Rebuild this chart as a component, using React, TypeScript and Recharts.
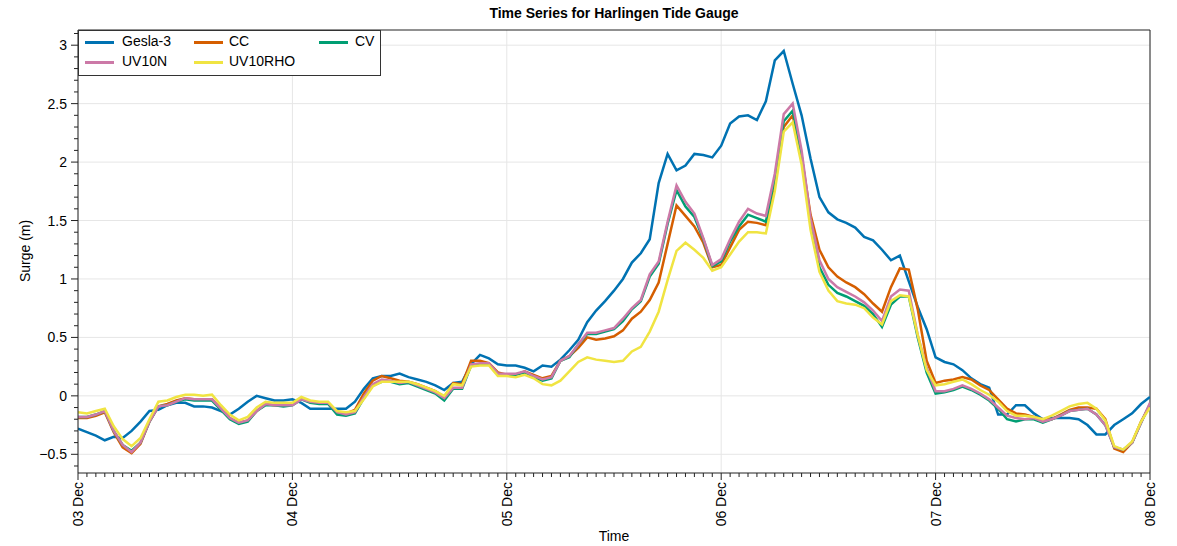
import { LineChart, Line, XAxis, YAxis, CartesianGrid, ReferenceLine } from 'recharts';

// hourly surge values, 03 Dec 00:00 -> 08 Dec 00:00 (121 points)
const gesla = [
  -0.28, -0.31, -0.34, -0.38, -0.35, -0.36, -0.30, -0.22, -0.13, -0.12, -0.08, -0.06, -0.06, -0.09, -0.09, -0.10, -0.13, -0.16, -0.11, -0.05, 0.0, -0.02, -0.04, -0.04,
  -0.03, -0.06, -0.11, -0.11, -0.11, -0.11, -0.11, -0.05, 0.06, 0.15, 0.17, 0.17, 0.19, 0.16, 0.14, 0.12, 0.09, 0.05, 0.11, 0.12, 0.27, 0.35, 0.32, 0.27,
  0.26, 0.26, 0.24, 0.21, 0.26, 0.25, 0.31, 0.39, 0.48, 0.63, 0.73, 0.81, 0.9, 1.0, 1.14, 1.22, 1.34, 1.82, 2.07, 1.93, 1.97, 2.07, 2.06, 2.04,
  2.14, 2.33, 2.39, 2.4, 2.36, 2.52, 2.87, 2.95, 2.67, 2.4, 2.03, 1.7, 1.57, 1.51, 1.48, 1.44, 1.36, 1.33, 1.25, 1.16, 1.2, 0.98, 0.76, 0.57,
  0.33, 0.29, 0.27, 0.22, 0.15, 0.1, 0.07, -0.16, -0.16, -0.08, -0.08, -0.15, -0.2, -0.19, -0.19, -0.19, -0.2, -0.25, -0.33, -0.33, -0.25, -0.2, -0.15, -0.07, -0.01,
];

const cc = [
  -0.19, -0.19, -0.17, -0.14, -0.31, -0.44, -0.49, -0.41, -0.22, -0.09, -0.07, -0.04, -0.02, -0.03, -0.03, -0.03, -0.11, -0.19, -0.23, -0.21, -0.13, -0.07, -0.08, -0.08,
  -0.07, -0.02, -0.05, -0.06, -0.06, -0.14, -0.15, -0.12, 0.02, 0.13, 0.17, 0.15, 0.13, 0.12, 0.1, 0.07, 0.04, -0.01, 0.11, 0.1, 0.3, 0.3, 0.28, 0.2,
  0.18, 0.18, 0.21, 0.18, 0.15, 0.17, 0.3, 0.34, 0.41, 0.5, 0.48, 0.49, 0.51, 0.56, 0.66, 0.72, 0.82, 0.97, 1.3, 1.63, 1.54, 1.45, 1.31, 1.1,
  1.12, 1.27, 1.42, 1.49, 1.48, 1.46, 1.8, 2.3, 2.4, 2.05, 1.55, 1.25, 1.1, 1.02, 0.97, 0.93, 0.87, 0.79, 0.72, 0.93, 1.09, 1.08, 0.74, 0.3,
  0.11, 0.13, 0.14, 0.16, 0.14, 0.09, 0.05, -0.03, -0.11, -0.15, -0.16, -0.18, -0.2, -0.2, -0.16, -0.12, -0.1, -0.1, -0.11, -0.2, -0.45, -0.48, -0.4, -0.22, -0.08,
];

const cv = [
  -0.18, -0.18, -0.16, -0.13, -0.3, -0.42, -0.47, -0.4, -0.22, -0.09, -0.08, -0.05, -0.03, -0.04, -0.04, -0.04, -0.12, -0.2, -0.24, -0.22, -0.13, -0.08, -0.08, -0.09,
  -0.08, -0.03, -0.06, -0.07, -0.07, -0.16, -0.17, -0.15, -0.02, 0.09, 0.12, 0.12, 0.1, 0.11, 0.08, 0.05, 0.02, -0.04, 0.06, 0.06, 0.26, 0.27, 0.27, 0.18,
  0.18, 0.18, 0.2, 0.16, 0.13, 0.15, 0.3, 0.33, 0.44, 0.53, 0.53, 0.55, 0.57, 0.64, 0.74, 0.81, 1.02, 1.13, 1.47, 1.76, 1.62, 1.53, 1.34, 1.11,
  1.15, 1.32, 1.45, 1.55, 1.52, 1.49, 1.86, 2.35, 2.44, 2.06, 1.47, 1.1, 0.95, 0.88, 0.85, 0.81, 0.77, 0.7, 0.59, 0.78, 0.85, 0.85, 0.5, 0.2,
  0.02, 0.03, 0.05, 0.08, 0.05, 0.01, -0.04, -0.11, -0.2, -0.22, -0.2, -0.2, -0.23, -0.2, -0.17, -0.13, -0.12, -0.11, -0.16, -0.25, -0.44, -0.46, -0.4, -0.23, -0.07,
];

const uv10n = [
  -0.18, -0.18, -0.16, -0.13, -0.3, -0.42, -0.48, -0.4, -0.22, -0.09, -0.08, -0.05, -0.02, -0.03, -0.03, -0.03, -0.11, -0.19, -0.23, -0.21, -0.13, -0.07, -0.08, -0.08,
  -0.08, -0.03, -0.05, -0.06, -0.06, -0.14, -0.16, -0.14, -0.01, 0.1, 0.14, 0.13, 0.11, 0.12, 0.09, 0.06, 0.03, -0.02, 0.07, 0.07, 0.27, 0.28, 0.28, 0.19,
  0.19, 0.19, 0.21, 0.17, 0.14, 0.16, 0.3, 0.34, 0.44, 0.54, 0.54, 0.56, 0.58, 0.66, 0.75, 0.82, 1.04, 1.15, 1.49, 1.8, 1.66, 1.56, 1.35, 1.12,
  1.17, 1.34, 1.49, 1.6, 1.56, 1.54, 1.9, 2.41, 2.5, 2.1, 1.52, 1.16, 1.0, 0.93, 0.89, 0.85, 0.8, 0.73, 0.64, 0.85, 0.91, 0.9, 0.52, 0.24,
  0.04, 0.04, 0.06, 0.09, 0.06, 0.02, -0.03, -0.1, -0.17, -0.19, -0.2, -0.19, -0.22, -0.2, -0.17, -0.13, -0.12, -0.11, -0.16, -0.25, -0.44, -0.46, -0.4, -0.23, -0.06,
];

const uv10rho = [
  -0.14, -0.15, -0.13, -0.11, -0.26, -0.37, -0.43, -0.36, -0.2, -0.05, -0.04, -0.01, 0.01, 0.01, 0.0, 0.01, -0.08, -0.16, -0.21, -0.18, -0.1, -0.05, -0.06, -0.06,
  -0.06, -0.01, -0.04, -0.05, -0.05, -0.13, -0.14, -0.13, -0.03, 0.08, 0.12, 0.12, 0.12, 0.12, 0.1, 0.07, 0.04, 0.0, 0.1, 0.09, 0.25, 0.26, 0.26, 0.17,
  0.17, 0.16, 0.18, 0.15, 0.1, 0.09, 0.13, 0.21, 0.29, 0.33, 0.31, 0.3, 0.29, 0.3, 0.38, 0.42, 0.55, 0.72, 0.99, 1.24, 1.31, 1.25, 1.18, 1.07,
  1.1, 1.21, 1.32, 1.4, 1.4, 1.39, 1.75, 2.26, 2.34, 1.98, 1.42, 1.06, 0.9, 0.81, 0.79, 0.78, 0.75, 0.67, 0.61, 0.81, 0.86, 0.85, 0.52, 0.22,
  0.09, 0.1, 0.12, 0.14, 0.1, 0.05, 0.01, -0.05, -0.13, -0.17, -0.17, -0.18, -0.2, -0.17, -0.13, -0.09, -0.07, -0.06, -0.11, -0.21, -0.43, -0.46, -0.39, -0.22, -0.1,
];

const dayLabels = ['03 Dec', '04 Dec', '05 Dec', '06 Dec', '07 Dec', '08 Dec'];
const dayTicks = [0, 24, 48, 72, 96, 120];
const hourTicks = Array.from({ length: 121 }, (_, i) => i);
const surgeMajor = [-0.5, 0, 0.5, 1, 1.5, 2, 2.5, 3];
const surgeTicks = Array.from({ length: 38 }, (_, i) => Math.round((-0.6 + i * 0.1) * 10) / 10);

const series = [
  { key: 'gesla', name: 'Gesla-3', color: '#0072B2' },
  { key: 'cc', name: 'CC', color: '#D55E00' },
  { key: 'cv', name: 'CV', color: '#009E73' },
  { key: 'uv10n', name: 'UV10N', color: '#CC79A7' },
  { key: 'uv10rho', name: 'UV10RHO', color: '#F0E442' },
];

const data = gesla.map((v, i) => ({
  t: i,
  gesla: v,
  cc: cc[i],
  cv: cv[i],
  uv10n: uv10n[i],
  uv10rho: uv10rho[i],
}));

const AXIS = '#222';
const FONT = '"Liberation Sans", Arial, Helvetica, sans-serif';

const HourTick = (props: any) => {
  const { x, y, payload } = props;
  const h = payload.value;
  const major = h % 24 === 0;
  return (
    <g>
      <line x1={x} x2={x} y1={y} y2={y + (major ? 7 : 4)} stroke={AXIS} strokeWidth={1} />
      {major && (
        <text
          x={x}
          y={y + 9}
          transform={`rotate(-90, ${x}, ${y + 9})`}
          textAnchor="end"
          dy="0.36em"
          fontSize={14}
          fill="#000"
        >
          {dayLabels[h / 24]}
        </text>
      )}
    </g>
  );
};

const SurgeTick = (props: any) => {
  const { x, y, payload } = props;
  const v = payload.value;
  const major = surgeMajor.some((m) => Math.abs(m - v) < 1e-6);
  return (
    <g>
      <line x1={x - (major ? 7 : 4)} x2={x} y1={y} y2={y} stroke={AXIS} strokeWidth={1} />
      {major && (
        <text x={x - 11} y={y} dy="0.36em" textAnchor="end" fontSize={14} fill="#000">
          {v < 0 ? `−${Math.abs(v)}` : String(v)}
        </text>
      )}
    </g>
  );
};

const legendCols = [
  { left: 6, text: 43 },
  { left: 115, text: 150 },
  { left: 240, text: 276 },
];
// legend entries laid out row by row, three per row
const legendOrder = ['gesla', 'cc', 'cv', 'uv10n', 'uv10rho'];

function ChartLegend() {
  return (
    <div
      style={{
        position: 'absolute',
        left: 78,
        top: 30,
        width: 303,
        height: 46,
        background: '#fff',
        border: '1px solid #333',
        boxSizing: 'border-box',
      }}
    >
      {legendOrder.map((k, i) => {
        const s = series.find((e) => e.key === k)!;
        const col = legendCols[i % 3];
        const top = i < 3 ? 11 : 31;
        return (
          <div key={k}>
            <div
              style={{
                position: 'absolute',
                left: col.left,
                top: top - 1,
                width: 29,
                height: 3,
                background: s.color,
              }}
            />
            <div
              style={{
                position: 'absolute',
                left: col.text,
                top: top - 9,
                fontSize: 14,
                lineHeight: '17px',
                color: '#000',
                whiteSpace: 'nowrap',
              }}
            >
              {s.name}
            </div>
          </div>
        );
      })}
    </div>
  );
}

export default function App() {
  return (
    <div style={{ position: 'relative', width: 1177, height: 546, background: '#fff', fontFamily: FONT }}>
      <style>{'body{margin:0}'}</style>
      <LineChart
        width={1177}
        height={546}
        data={data}
        margin={{ top: 30, right: 27, left: 0, bottom: 0 }}
      >
        <CartesianGrid
          stroke="#e6e6e6"
          strokeWidth={1}
          verticalValues={dayTicks}
          horizontalValues={surgeMajor}
        />
        <XAxis
          dataKey="t"
          type="number"
          domain={[0, 120]}
          ticks={hourTicks}
          interval={0}
          height={73}
          tickSize={0}
          tickMargin={0}
          tickLine={false}
          axisLine={{ stroke: AXIS, strokeWidth: 1 }}
          tick={<HourTick />}
          allowDataOverflow
        />
        <YAxis
          type="number"
          domain={[-0.66, 3.13]}
          ticks={surgeTicks}
          interval={0}
          width={78}
          tickSize={0}
          tickMargin={0}
          tickLine={false}
          axisLine={{ stroke: AXIS, strokeWidth: 1 }}
          tick={<SurgeTick />}
          allowDataOverflow
        />
        <ReferenceLine x={120} stroke={AXIS} strokeWidth={1} />
        <ReferenceLine y={3.13} stroke={AXIS} strokeWidth={1} />
        {series.map((s) => (
          <Line
            key={s.key}
            type="linear"
            dataKey={s.key}
            name={s.name}
            stroke={s.color}
            strokeWidth={2.5}
            dot={false}
            activeDot={false}
            isAnimationActive={false}
          />
        ))}
      </LineChart>
      <ChartLegend />
      <div
        style={{
          position: 'absolute',
          left: 78,
          width: 1072,
          top: 5,
          textAlign: 'center',
          fontSize: 14,
          fontWeight: 'bold',
          color: '#000',
        }}
      >
        Time Series for Harlingen Tide Gauge
      </div>
      <div
        style={{
          position: 'absolute',
          left: 78,
          width: 1072,
          top: 528,
          textAlign: 'center',
          fontSize: 14,
          color: '#000',
        }}
      >
        Time
      </div>
      <div
        style={{
          position: 'absolute',
          left: 25,
          top: 251,
          transform: 'translate(-50%, -50%) rotate(-90deg)',
          fontSize: 14,
          color: '#000',
          whiteSpace: 'nowrap',
        }}
      >
        Surge (m)
      </div>
    </div>
  );
}
